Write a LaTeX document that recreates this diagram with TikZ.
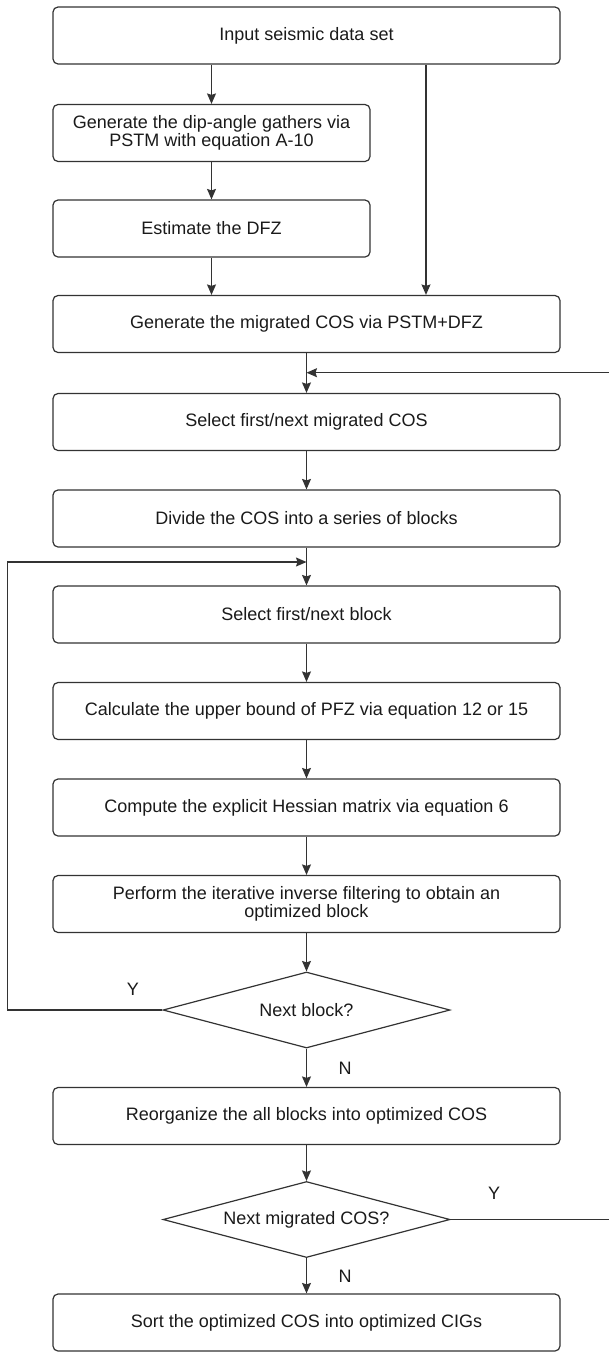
\documentclass[tikz,border=0pt]{standalone}
\usepackage{fontspec}
\setmainfont{Liberation Sans}
\usetikzlibrary{shapes.geometric,arrows.meta}
\definecolor{ln}{HTML}{333333}
\definecolor{tx}{HTML}{1A1A1A}
\begin{document}
\begin{tikzpicture}[x=1pt,y=-1pt,
  box/.style={draw=ln,line width=1.2pt,rounded corners=5pt,minimum height=57pt,inner sep=0pt,align=center,text=tx,font=\fontsize{18}{18.5}\selectfont},
  wide/.style={box,minimum width=507pt},
  narrow/.style={box,minimum width=317pt},
  dec/.style={draw=ln,line width=1.2pt,diamond,aspect=3.78,minimum width=287pt,minimum height=76pt,inner sep=0pt,text=tx,font=\fontsize{18}{18.5}\selectfont},
  arr/.style={draw=ln,line width=1.2pt,-{Stealth[length=10.5pt,width=9pt,inset=1.5pt]}},
  lbl/.style={text=tx,font=\fontsize{18}{20}\selectfont}]
\useasboundingbox (0,0) rectangle (609,1352);

\node[wide] (b1) at (306.5,35.5) {Input seismic data set};
\node[narrow] (b2) at (211.5,133) {Generate the dip-angle gathers via\\PSTM with equation A-10};
\node[narrow] (b3) at (211.5,228.5) {Estimate the DFZ};
\node[wide] (b4) at (306.5,324) {Generate the migrated COS via PSTM+DFZ};
\node[wide] (b5) at (306.5,422) {Select first/next migrated COS};
\node[wide] (b6) at (306.5,518.5) {Divide the COS into a series of blocks};
\node[wide] (b7) at (306.5,614.5) {Select first/next block};
\node[wide] (b8) at (306.5,711) {Calculate the upper bound of PFZ via equation 12 or 15};
\node[wide] (b9) at (306.5,807.5) {Compute the explicit Hessian matrix via equation 6};
\node[wide] (b10) at (306.5,904) {Perform the iterative inverse filtering to obtain an\\optimized block};
\node[dec] (d1) at (306.5,1010) {Next block?};
\node[wide] (b11) at (306.5,1116) {Reorganize the all blocks into optimized COS};
\node[dec] (d2) at (306.5,1219.5) {Next migrated COS?};
\node[wide] (b12) at (306.5,1322.5) {Sort the optimized COS into optimized CIGs};

\node[lbl] (y1) at (133,989) {Y};
\node[lbl] (n1) at (345,1068) {N};
\node[lbl] (y2) at (494,1193) {Y};
\node[lbl] (n2) at (345,1276) {N};

\coordinate (rx) at (426,0);
\coordinate (rr) at (616,372.7);
\coordinate (lr) at (7.8,562);

\draw[arr] (b1.south -| b2.north) -- (b2.north);
\draw[arr] (b2) -- (b3);
\draw[arr] (b3.south) -- (b3.south |- b4.north);
\draw[arr] (b1.south -| rx) -- (b4.north -| rx);
\draw[arr] (b4) -- (b5);
\draw[arr] (b5) -- (b6);
\draw[arr] (b6) -- (b7);
\draw[arr] (b7) -- (b8);
\draw[arr] (b8) -- (b9);
\draw[arr] (b9) -- (b10);
\draw[arr] (b10) -- (d1);
\draw[arr] (d1) -- (b11);
\draw[arr] (b11) -- (d2);
\draw[arr] (d2) -- (b12);
\draw[arr] (d1.west) -| (lr) -- (lr -| b7.north);
\draw[arr] (d2.east) -| (rr) -- (rr -| b5.north);
\end{tikzpicture}
\end{document}
